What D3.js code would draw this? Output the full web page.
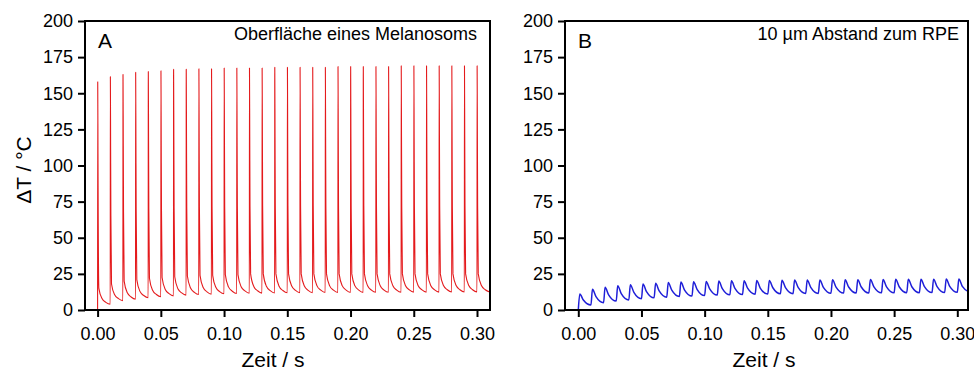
<!DOCTYPE html>
<html>
<head>
<meta charset="utf-8">
<script src="https://cdn.jsdelivr.net/npm/d3@7"></script>
<style>
  body { margin: 0; background: #fff; }
  svg text { font-family: Arial, 'Liberation Sans', sans-serif; fill: #000; }
</style>
</head>
<body>
<div id="chart"></div>
<script>
// pulse start times (s), one laser pulse every 10 ms
const pulseT = [0, 0.01, 0.02, 0.03, 0.04, 0.05, 0.06, 0.07, 0.08, 0.09, 0.1,
  0.11, 0.12, 0.13, 0.14, 0.15, 0.16, 0.17, 0.18, 0.19, 0.2,
  0.21, 0.22, 0.23, 0.24, 0.25, 0.26, 0.27, 0.28, 0.29, 0.3];

// Panel A: melanosome surface (°C), sampled per pulse
const offA = [0.0001, 0.0003, 0.0005, 0.001, 0.0035, 0.0065, 0.01];
const peakA = [158, 161.5, 163, 164.5, 165, 165.5, 166.5, 166.5, 167, 167, 167.5,
  167.5, 167.5, 167.5, 168, 168, 168, 168, 168, 168.5, 168.5,
  168.5, 168.5, 168.5, 169, 169, 169, 169, 169, 169, 169];
const fall1A = [108, 111, 114, 116, 117, 117, 118, 118, 119, 119, 119,
  119, 120, 120, 120, 120, 120, 120, 120, 120, 120,
  120, 120, 120, 120, 120, 120, 120, 120, 120, 120];
const fall2A = [60, 65, 68, 69, 70, 70, 71, 71, 71, 72, 72,
  72, 72, 72, 72, 72, 72, 72, 72, 72, 72,
  72, 72, 72, 72, 72, 72, 72, 72, 72, 72];
const kneeA = [15, 18, 20, 21, 22, 22.5, 23, 23.5, 24, 24, 24.5,
  24.5, 25, 25, 25, 25, 25, 25, 25, 25, 25,
  25, 25, 25, 25, 25, 25, 25, 25, 25, 25];
const midA = [7.9, 10.5, 11.9, 12.9, 13.7, 14.2, 14.7, 15.2, 15.6, 15.7, 16,
  16.1, 16.3, 16.4, 16.5, 16.6, 16.6, 16.7, 16.7, 16.7, 16.7,
  16.8, 16.8, 16.8, 16.8, 16.8, 16.8, 16.9, 16.9, 16.9, 16.9];
const lateA = [5.3, 7.9, 9, 10, 10.7, 11.3, 11.8, 12.2, 12.6, 12.7, 13,
  13.2, 13.3, 13.4, 13.5, 13.6, 13.6, 13.7, 13.7, 13.8, 13.8,
  13.8, 13.8, 13.8, 13.9, 13.9, 13.9, 14, 14, 14, 14];
const troughA = [4, 6.5, 7.5, 8.5, 9.2, 9.8, 10.3, 10.7, 11, 11.2, 11.4,
  11.6, 11.7, 11.8, 11.9, 12, 12, 12.1, 12.1, 12.2, 12.2,
  12.3, 12.3, 12.3, 12.4, 12.4, 12.4, 12.5, 12.5, 12.5, 12.5];

// Panel B: 10 µm from RPE (°C)
const offB = [0.0012, 0.004, 0.01];
const peakB = [11, 14.3, 15.7, 16.8, 17.5, 18, 18.5, 19, 19.3, 19.6, 19.8,
  20, 20.2, 20.3, 20.4, 20.5, 20.6, 20.7, 20.8, 20.8, 20.9,
  21, 21, 21.1, 21.1, 21.2, 21.2, 21.3, 21.3, 21.4, 21.4];
const midB = [6.9, 9.2, 10.5, 11.4, 12.2, 12.7, 13.2, 13.7, 14, 14.3, 14.6,
  14.8, 15, 15.1, 15.2, 15.4, 15.5, 15.6, 15.7, 15.7, 15.8,
  15.9, 15.9, 16, 16, 16.1, 16.1, 16.2, 16.2, 16.3, 16.3];
const troughB = [3.5, 5, 6.2, 7, 7.8, 8.4, 8.9, 9.3, 9.7, 10, 10.3,
  10.5, 10.7, 10.9, 11, 11.2, 11.3, 11.4, 11.5, 11.6, 11.7,
  11.8, 11.8, 11.9, 11.9, 12, 12, 12.1, 12.1, 12.2, 12.2];

const xTicks = [0, 0.05, 0.1, 0.15, 0.2, 0.25, 0.3];
const yTicks = [0, 25, 50, 75, 100, 125, 150, 175, 200];

const W = 974, H = 374;
const plotTop = 21, plotBottom = 310;

const svg = d3.select('#chart').append('svg')
  .attr('width', W).attr('height', H)
  .attr('viewBox', `0 0 ${W} ${H}`);

// build a series from per-pulse columns
const buildSeries = (offs, cols) => {
  const pts = [[0, 0]];
  pulseT.forEach((t, k) => {
    offs.forEach((o, j) => pts.push([t + o, cols[j][k]]));
  });
  return pts;
};

const panels = [
  {
    id: 'A', left: 85, right: 490, x0: 97.6, x30: 477,
    label: 'A', note: 'Oberfläche eines Melanosoms', noteX: 477, titleX: 273,
    color: '#e41a1c', width: 1.1,
    data: buildSeries(offA, [peakA, fall1A, fall2A, kneeA, midA, lateA, troughA]),
  },
  {
    id: 'B', left: 565, right: 968, x0: 578.3, x30: 957.3,
    label: 'B', note: '10 µm Abstand zum RPE', noteX: 959, titleX: 764,
    color: '#1f1fd8', width: 1.5,
    data: buildSeries(offB, [peakB, midB, troughB]),
  },
];

const y = d3.scaleLinear().domain([0, 200]).range([plotBottom, plotTop]);

panels.forEach((p) => {
  const x = d3.scaleLinear().domain([0, 0.3]).range([p.x0, p.x30]);
  const g = svg.append('g');

  g.append('clipPath').attr('id', 'clip-' + p.id)
    .append('rect')
    .attr('x', p.left).attr('y', plotTop)
    .attr('width', p.right - p.left).attr('height', plotBottom - plotTop);

  // trace
  g.append('path')
    .datum(p.data)
    .attr('clip-path', `url(#clip-${p.id})`)
    .attr('fill', 'none')
    .attr('stroke', p.color)
    .attr('stroke-width', p.width)
    .attr('stroke-linejoin', 'round')
    .attr('d', d3.line()
      .x((d) => x(d[0]))
      .y((d) => y(d[1]))
      .curve(d3.curveMonotoneX));

  // frame
  g.append('rect')
    .attr('x', p.left).attr('y', plotTop)
    .attr('width', p.right - p.left).attr('height', plotBottom - plotTop)
    .attr('fill', 'none').attr('stroke', '#000').attr('stroke-width', 2);

  // y axis
  const ya = g.append('g')
    .attr('transform', `translate(${p.left},0)`)
    .call(d3.axisLeft(y).tickValues(yTicks).tickSize(7).tickPadding(5).tickSizeOuter(0));
  ya.select('.domain').remove();
  ya.selectAll('.tick line').attr('stroke-width', 2);
  ya.selectAll('.tick text').attr('font-size', 18);

  // x axis
  const xa = g.append('g')
    .attr('transform', `translate(0,${plotBottom})`)
    .call(d3.axisBottom(x).tickValues(xTicks).tickFormat(d3.format('.2f'))
      .tickSize(7).tickPadding(10).tickSizeOuter(0));
  xa.select('.domain').remove();
  xa.selectAll('.tick line').attr('stroke-width', 2);
  xa.selectAll('.tick text').attr('font-size', 18);

  // panel letter and caption
  g.append('text')
    .attr('x', p.left + 13).attr('y', 48)
    .attr('font-size', 21)
    .text(p.label);
  g.append('text')
    .attr('x', p.noteX).attr('y', 40)
    .attr('text-anchor', 'end')
    .attr('font-size', 18)
    .text(p.note);

  // x title
  g.append('text')
    .attr('x', p.titleX).attr('y', 367)
    .attr('text-anchor', 'middle')
    .attr('font-size', 21)
    .text('Zeit / s');
});

// y title
svg.append('text')
  .attr('transform', 'translate(31,170) rotate(-90)')
  .attr('text-anchor', 'middle')
  .attr('font-size', 21)
  .text('ΔT / °C');
</script>
</body>
</html>
